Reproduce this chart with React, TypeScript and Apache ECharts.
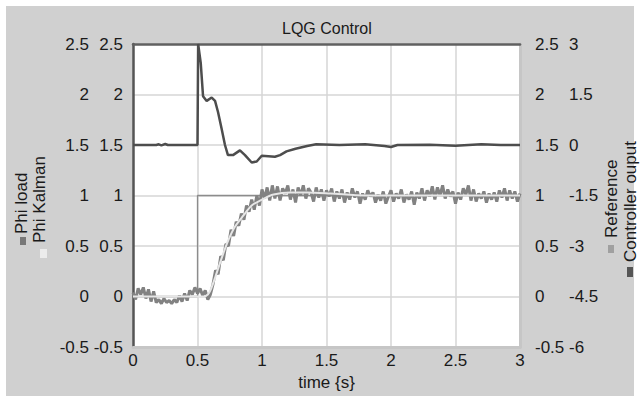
import React, { useEffect, useRef } from "react";
import * as echarts from "echarts";

// ---------- data ----------
const title = "LQG Control";
const xName = "time {s}";
const seriesNames = ["Reference", "Phi load", "Phi Kalman", "Controller ouput"];

// Reference step [t, value]
const reference: number[][] = [
  [0, 0],
  [0.5, 0],
  [0.5, 1],
  [3, 1],
];

// Phi load, sampled every 0.02 s from t = 0 to t = 3
const phiLoadDt = 0.02;
const phiLoad: number[] = [
  0.04, -0.03, 0.08, 0.02, 0.09, -0.02, 0.07, -0.05, 0.05, -0.06,
  -0.03, -0.07, -0.02, -0.06, -0.04, -0.07, -0.03, -0.06, 0.01, -0.05,
  0.03, -0.04, 0.06, 0.02, 0.09, 0.03, 0.08, 0.01, 0.06, -0.03,
  0.02,
  0.12, 0.26, 0.22, 0.4, 0.36, 0.52, 0.5, 0.66, 0.6, 0.74,
  0.7, 0.82, 0.76, 0.9, 0.84, 0.96, 0.86, 1.0, 0.9, 1.06,
  0.97, 1.08, 0.95, 1.1,
  0.97, 1.09, 0.95, 1.07, 1.02, 1.1, 0.96, 1.06, 0.93, 1.08,
  1.0, 1.1, 0.97, 1.07, 1.03, 0.94, 1.08, 0.98, 1.06, 0.95,
  1.05, 0.99, 1.07, 0.94, 1.04, 0.97, 1.06, 0.93, 1.03, 0.96,
  1.07, 0.98, 1.04, 0.92, 1.02, 0.96, 1.05, 0.99, 1.03, 0.93,
  1.01, 0.95, 1.04, 0.92, 0.99, 1.05, 0.94, 1.02, 0.97, 1.06,
  0.93, 1.01, 0.96, 1.04, 0.91, 1.03, 0.97, 1.07, 0.95, 1.05,
  0.99, 1.09, 0.96, 1.08, 1.0, 1.1, 0.97, 1.06, 0.99, 1.04,
  0.92, 1.03, 0.96, 1.07, 1.01, 1.1, 0.95, 1.06, 0.94, 1.02,
  0.97, 1.04, 0.93, 1.02, 0.96, 1.03, 0.94, 1.05, 0.98, 1.07,
  0.95, 1.05, 0.97, 1.04, 0.94, 1.02,
];

// Phi Kalman estimate [t, value]
const phiKalman: number[][] = [
  [0, 0], [0.3, 0.0], [0.55, 0.0], [0.58, 0.02], [0.6, 0.06], [0.64, 0.2],
  [0.69, 0.39], [0.74, 0.56], [0.79, 0.69], [0.855, 0.8], [0.92, 0.9],
  [1.0, 0.96], [1.09, 1.01], [1.22, 1.03], [1.35, 1.03], [1.53, 1.02],
  [1.8, 1.0], [2.2, 1.0], [2.6, 1.0], [3, 1.0],
];

// Controller output [t, value] on the right (-6..3) scale
const controller: number[][] = [
  [0, 0], [0.18, 0], [0.2, 0.02], [0.22, -0.01], [0.25, 0.03], [0.27, 0],
  [0.5, 0], [0.505, 3.0], [0.525, 2.44], [0.543, 1.45], [0.571, 1.31],
  [0.61, 1.41], [0.636, 1.31], [0.659, 0.98], [0.687, 0.48], [0.713, 0.0],
  [0.736, -0.3], [0.775, -0.3], [0.829, -0.16], [0.868, -0.3], [0.92, -0.52],
  [0.959, -0.49], [0.998, -0.32], [1.1, -0.35], [1.14, -0.3], [1.19, -0.19],
  [1.26, -0.11], [1.35, -0.03], [1.42, 0.02], [1.6, 0.0], [1.8, 0.02],
  [1.95, -0.03], [2.0, -0.06], [2.05, 0.0], [2.3, 0.01], [2.5, -0.02],
  [2.7, 0.02], [2.85, 0.0], [3, 0.0],
];

// axis ranges
const xRange = { min: 0, max: 3, interval: 0.5 };
const leftRange = { min: -0.5, max: 2.5, interval: 0.5 };
const ctrlRange = { min: -6, max: 3, interval: 1.5 };

// ---------- styles ----------
const FONT = "'Liberation Sans', Arial, sans-serif";
const TXT = "#1a1a1a";
const BG = "#d0d0d0";
const GRIDC = "#d6d6d6";
const C_REF = "#8c8c8c";
const C_LOAD = "#828282";
const C_KAL = "#e6e6e6";
const C_CTRL = "#4d4d4d";

export default function App() {
  const ref = useRef<HTMLDivElement>(null);

  useEffect(() => {
    document.body.style.margin = "0";
    const chart = echarts.init(ref.current!, null, { renderer: "svg" });
    const label = { color: TXT, fontSize: 17, fontFamily: FONT };
    const phiLoadData = phiLoad.map((v, i) => [+(i * phiLoadDt).toFixed(2), v]);

    const legendText = (text: string, x: number, y: number) => ({
      type: "text",
      x,
      y,
      rotation: Math.PI / 2,
      style: {
        text,
        fill: TXT,
        font: `17px ${FONT}`,
        textAlign: "left",
        textVerticalAlign: "middle",
      },
      z: 10,
    });
    const marker = (x: number, y: number, w: number, h: number, fill: string) => ({
      type: "rect",
      shape: { x, y, width: w, height: h },
      style: { fill },
      z: 10,
    });

    chart.setOption({
      animation: false,
      backgroundColor: "#ffffff",
      title: {
        text: title,
        left: 282,
        top: 20,
        padding: 0,
        textStyle: { color: TXT, fontSize: 16, fontWeight: "normal", fontFamily: FONT },
      },
      grid: {
        left: 133,
        right: 122,
        top: 44,
        bottom: 45,
        show: true,
        backgroundColor: "#ffffff",
        borderWidth: 0,
      },
      graphic: [
        { type: "rect", shape: { x: 6, y: 6, width: 628, height: 390 }, style: { fill: BG }, z: -100 },
        legendText("Phi load", 21, 234),
        marker(20, 237, 6, 8, "#787878"),
        legendText("Phi Kalman", 39, 243),
        marker(40, 249, 7, 9, "#ececec"),
        legendText("Reference", 611, 238),
        marker(608, 245, 6, 8, "#a0a0a0"),
        legendText("Controller ouput", 630, 262),
        marker(627, 267, 6, 10, "#555555"),
      ],
      xAxis: [
        {
          type: "value",
          ...xRange,
          position: "bottom",
          name: xName,
          nameLocation: "middle",
          nameGap: 27,
          nameTextStyle: { ...label },
          axisLine: { show: true, onZero: false, lineStyle: { color: "#c6c6c6", width: 3 } },
          axisTick: { show: false },
          axisLabel: { ...label, margin: 5 },
          splitLine: { show: true, lineStyle: { color: GRIDC, width: 1.5 } },
        },
        {
          type: "value",
          ...xRange,
          position: "top",
          axisLine: { show: true, onZero: false, lineStyle: { color: "#606060", width: 2.5 } },
          axisTick: { show: false },
          axisLabel: { show: false },
          splitLine: { show: false },
        },
      ],
      yAxis: [
        {
          type: "value",
          ...leftRange,
          position: "left",
          axisLine: { show: true, onZero: false, lineStyle: { color: "#555555", width: 2.5 } },
          axisTick: { show: false },
          axisLabel: { ...label, margin: 10 },
          splitLine: { show: true, lineStyle: { color: GRIDC, width: 1.5 } },
        },
        {
          type: "value",
          ...leftRange,
          position: "left",
          offset: 34,
          axisLine: { show: false },
          axisTick: { show: false },
          axisLabel: { ...label, margin: 10 },
          splitLine: { show: false },
        },
        {
          type: "value",
          ...leftRange,
          position: "right",
          axisLine: { show: true, onZero: false, lineStyle: { color: "#c6c6c6", width: 3 } },
          axisTick: { show: false },
          axisLabel: { ...label, margin: 15 },
          splitLine: { show: false },
        },
        {
          type: "value",
          ...ctrlRange,
          position: "right",
          offset: 34,
          axisLine: { show: false },
          axisTick: { show: false },
          axisLabel: { ...label, margin: 15 },
          splitLine: { show: false },
        },
      ],
      series: [
        {
          name: seriesNames[0],
          type: "line",
          data: reference,
          xAxisIndex: 0,
          yAxisIndex: 0,
          showSymbol: false,
          lineStyle: { color: C_REF, width: 1.3 },
          z: 2,
        },
        {
          name: seriesNames[1],
          type: "line",
          data: phiLoadData,
          xAxisIndex: 0,
          yAxisIndex: 0,
          showSymbol: false,
          lineStyle: { color: C_LOAD, width: 3 },
          z: 3,
        },
        {
          name: seriesNames[2],
          type: "line",
          data: phiKalman,
          xAxisIndex: 0,
          yAxisIndex: 0,
          showSymbol: false,
          smooth: 0.3,
          lineStyle: { color: C_KAL, width: 2 },
          z: 4,
        },
        {
          name: seriesNames[3],
          type: "line",
          data: controller,
          xAxisIndex: 0,
          yAxisIndex: 3,
          showSymbol: false,
          lineStyle: { color: C_CTRL, width: 2.5 },
          z: 5,
        },
      ],
    });
    return () => chart.dispose();
  }, []);

  return <div ref={ref} style={{ width: 642, height: 396 }} />;
}
